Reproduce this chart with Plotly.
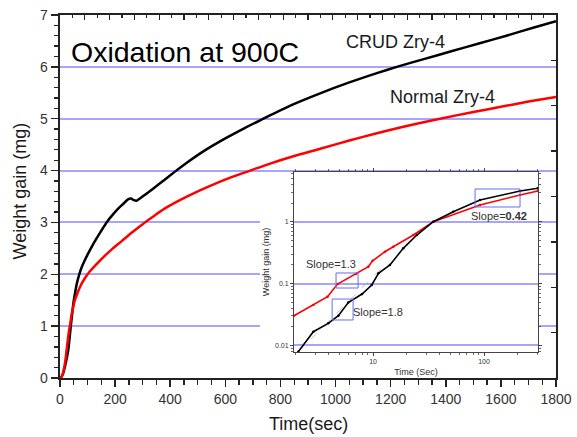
import math
import plotly.graph_objects as go

# ---------------- main chart data ----------------
crud_t = [0, 5, 10, 18, 24, 30, 35, 39, 44, 48, 55, 61, 70, 79, 90, 100, 115, 130, 145, 157, 169,
          190, 212, 230, 248, 258, 268, 278, 290, 310, 340, 381, 415, 460, 520, 600, 670, 738,
          830, 944, 1050, 1150, 1222, 1320, 1420, 1520, 1620, 1720, 1800]
crud_w = [0, 0.02, 0.07, 0.22, 0.37, 0.54, 0.78, 0.99, 1.22, 1.42, 1.65, 1.82, 2.0, 2.14, 2.27,
          2.38, 2.53, 2.67, 2.8, 2.9, 3.0, 3.14, 3.27, 3.36, 3.45, 3.46, 3.43, 3.42, 3.46, 3.54, 3.66,
          3.83, 3.97, 4.15, 4.37, 4.62, 4.82, 5.0, 5.24, 5.49, 5.7, 5.88, 6.0, 6.15, 6.3, 6.45,
          6.6, 6.76, 6.88]

normal_t = [0, 5, 10, 16, 20, 24, 28, 33, 37, 42, 48, 54, 63, 73, 85, 103, 130, 163, 190, 224,
            260, 308, 345, 381, 435, 500, 560, 620, 690, 760, 850, 944, 1050, 1150, 1250, 1379,
            1500, 1600, 1700, 1800]
normal_w = [0, 0.02, 0.08, 0.22, 0.36, 0.54, 0.72, 0.92, 1.04, 1.22, 1.37, 1.5, 1.63, 1.76, 1.88,
            2.02, 2.18, 2.36, 2.49, 2.64, 2.8, 3.0, 3.14, 3.27, 3.43, 3.6, 3.74, 3.87, 4.0, 4.13,
            4.28, 4.42, 4.58, 4.72, 4.85, 5.0, 5.13, 5.23, 5.33, 5.42]

# ---------------- inset (log-log) data ----------------
ins_normal_t = [1.94, 2.9, 3.89, 4.79, 7.03, 9.07, 9.9, 12.8, 15.2, 23.1, 34.9, 92, 211, 305]
ins_normal_w = [0.0301, 0.0449, 0.0611, 0.098, 0.1425, 0.187, 0.233, 0.327, 0.394, 0.609, 1.0,
                1.86, 2.70, 3.14]
ins_crud_t = [2.12, 2.9, 3.95, 4.87, 5.98, 7.96, 9.73, 11.2, 14.2, 18.7, 24.8, 34.9, 52.8, 92,
              211, 305]
ins_crud_w = [0.0079, 0.0166, 0.0227, 0.0301, 0.0493, 0.0676, 0.0946, 0.146, 0.20, 0.371, 0.609,
              1.0, 1.45, 2.24, 3.14, 3.47]
fit18_t = [2.12, 12.8]
fit18_w = [0.0079, 0.20]

# slope boxes (time range, weight range) and labels
box_t = [[4.64, 7.33], [4.28, 6.61], [83, 211]]
box_w = [[0.0846, 0.148], [0.0257, 0.0561], [1.73, 3.38]]
slope_labels = ["Slope=1.3", "Slope=1.8", "Slope=<b>0.42</b>"]
slope_pos_t = [4.19, 11.1, 136]
slope_pos_w = [0.207, 0.0344, 1.24]

main_xticks = [0, 200, 400, 600, 800, 1000, 1200, 1400, 1600, 1800]
main_yticks = [0, 1, 2, 3, 4, 5, 6, 7]
ins_xticks = [10, 100]
ins_xminor = [2, 3, 4, 5, 6, 7, 8, 9, 20, 30, 40, 50, 60, 70, 80, 90, 200, 300]
ins_yticks = [0.01, 0.1, 1]
ins_yticktext = ["0.01", "0.1", "1"]
ins_yminor = [0.008, 0.009, 0.02, 0.03, 0.04, 0.05, 0.06, 0.07, 0.08, 0.09,
              0.2, 0.3, 0.4, 0.5, 0.6, 0.7, 0.8, 0.9, 2, 3, 4, 5, 6]

FONT = "Arial, Liberation Sans, sans-serif"
GRID = "rgb(165,165,255)"
AX = "#222222"

fig = go.Figure()
fig.add_trace(go.Scatter(x=crud_t, y=crud_w, mode="lines",
                         line=dict(color="black", width=2.5, shape="spline", smoothing=0.7),
                         showlegend=False, hoverinfo="skip"))
fig.add_trace(go.Scatter(x=normal_t, y=normal_w, mode="lines",
                         line=dict(color="#ff0000", width=2.5, shape="spline", smoothing=0.7),
                         showlegend=False, hoverinfo="skip"))
# helper (empty) trace for the top/right mirror axes
fig.add_trace(go.Scatter(x=[], y=[], xaxis="x3", yaxis="y3", showlegend=False, hoverinfo="skip"))

# inset traces
fig.add_trace(go.Scatter(x=fit18_t, y=fit18_w, xaxis="x2", yaxis="y2", mode="lines",
                         line=dict(color="rgba(170,175,225,0.8)", width=1, dash="dash"),
                         showlegend=False, hoverinfo="skip"))
fig.add_trace(go.Scatter(x=ins_normal_t, y=ins_normal_w, xaxis="x2", yaxis="y2", mode="lines+markers",
                         line=dict(color="#ff0000", width=1.6), marker=dict(size=2.5, color="#ff0000"),
                         showlegend=False, hoverinfo="skip"))
fig.add_trace(go.Scatter(x=ins_crud_t, y=ins_crud_w, xaxis="x2", yaxis="y2", mode="lines+markers",
                         line=dict(color="black", width=1.6), marker=dict(size=2.5, color="black"),
                         showlegend=False, hoverinfo="skip"))

shapes = [dict(type="rect", xref="x", yref="y", x0=726, x1=1738, y0=0.03, y1=3.9,
               fillcolor="white", line=dict(width=0), layer="between")]
for (t0, t1), (w0, w1) in zip(box_t, box_w):
    shapes.append(dict(type="rect", xref="x2", yref="y2", x0=t0, x1=t1, y0=w0, y1=w1,
                       line=dict(color="rgb(100,110,245)", width=1), fillcolor="rgba(0,0,0,0)"))

annotations = [
    dict(text="Oxidation at 900C", x=34, y=6.28, xref="x", yref="y", xanchor="left", yanchor="middle",
         showarrow=False, font=dict(family=FONT, size=28.5, color="black")),
    dict(text="CRUD Zry-4", x=1219, y=6.47, xref="x", yref="y", xanchor="center", yanchor="middle",
         showarrow=False, font=dict(family=FONT, size=18, color="#1a1a1a")),
    dict(text="Normal Zry-4", x=1389, y=5.42, xref="x", yref="y", xanchor="center", yanchor="middle",
         showarrow=False, font=dict(family=FONT, size=18, color="#1a1a1a")),
    dict(text="Weight gain (mg)", x=-0.0806, y=0.514, xref="paper", yref="paper", textangle=-90,
         xanchor="center", yanchor="middle",
         showarrow=False, font=dict(family=FONT, size=18, color="#1a1a1a")),
    dict(text="Time(sec)", x=0.5, y=-0.127, xref="paper", yref="paper", xanchor="center",
         yanchor="middle", showarrow=False, font=dict(family=FONT, size=18, color="#1a1a1a")),
]
for lbl, t, w in zip(slope_labels, slope_pos_t, slope_pos_w):
    annotations.append(dict(text=lbl, x=math.log10(t), y=math.log10(w), xref="x2", yref="y2",
                            xanchor="center", yanchor="middle",
                            showarrow=False, font=dict(family=FONT, size=11, color="#333333")))

fig.update_layout(
    width=577, height=437,
    margin=dict(l=60, r=21, t=15, b=59),
    paper_bgcolor="white", plot_bgcolor="white",
    font=dict(family=FONT, color="#333333"),
    shapes=shapes, annotations=annotations,
    xaxis=dict(range=[0, 1800], tickmode="array", tickvals=main_xticks, ticks="outside", ticklen=7,
               tickwidth=1.5, tickcolor=AX, showline=True, linewidth=2, linecolor=AX,
               showgrid=False, zeroline=False, tickfont=dict(size=14, color="#333333"),
               minor=dict(dtick=50, ticks="outside", ticklen=4.5, tickwidth=1.3, tickcolor=AX),
               anchor="y", domain=[0, 1], automargin=False),
    yaxis=dict(range=[0, 7], tickmode="array", tickvals=main_yticks, ticks="outside", ticklen=7.5,
               tickwidth=1.5, tickcolor=AX, showline=True, linewidth=2, linecolor=AX,
               showgrid=True, gridcolor=GRID, gridwidth=2, zeroline=False,
               tickfont=dict(size=14, color="#333333"),
               minor=dict(dtick=0.2, ticks="outside", ticklen=4.5, tickwidth=1.3, tickcolor=AX),
               anchor="x", domain=[0, 1], automargin=False),
    xaxis3=dict(range=[0, 20], overlaying="x", side="top", anchor="y3", dtick=1, ticks="inside",
                ticklen=5, tickwidth=1.3, tickcolor=AX, showticklabels=False, showline=True,
                linewidth=2, linecolor=AX, showgrid=False, zeroline=False, automargin=False,
                minor=dict(dtick=0.5, ticks="inside", ticklen=2.5, tickwidth=1.2, tickcolor=AX)),
    yaxis3=dict(range=[0, 8], overlaying="y", side="right", anchor="x3", dtick=1, ticks="inside",
                ticklen=5, tickwidth=1.3, tickcolor=AX, showticklabels=False, showline=True,
                linewidth=2, linecolor=AX, showgrid=False, zeroline=False, automargin=False),
    xaxis2=dict(type="log", range=[0.288, 2.486], domain=[0.4718, 0.9637], anchor="y2",
                tickmode="array", tickvals=ins_xticks, ticks="outside", ticklen=3, tickwidth=1,
                tickcolor="#444", showline=True, linewidth=1, linecolor="#444", mirror="ticks",
                showgrid=False, zeroline=False, tickfont=dict(size=7, color="#333"), automargin=False,
                minor=dict(tickvals=ins_xminor, ticks="outside", ticklen=2, tickwidth=0.8,
                           tickcolor="#444", showgrid=False),
                title=dict(text="Time (Sec)", font=dict(size=9, color="#333"), standoff=4)),
    yaxis2=dict(type="log", range=[-2.108, 0.804], domain=[0.0716, 0.5675], anchor="x2",
                tickmode="array", tickvals=ins_yticks, ticktext=ins_yticktext, ticks="outside",
                ticklen=3, tickwidth=1, tickcolor="#444", showline=True, linewidth=1, linecolor="#444",
                mirror="ticks", showgrid=True, gridcolor=GRID, gridwidth=2, zeroline=False,
                tickfont=dict(size=7, color="#333"), automargin=False,
                minor=dict(tickvals=ins_yminor, ticks="outside", ticklen=2, tickwidth=0.8,
                           tickcolor="#444", showgrid=False),
                title=dict(text="Weight gain (mg)", font=dict(size=9, color="#333"), standoff=3)),
)

fig.write_html("out.html", config={"displayModeBar": False, "staticPlot": True},
               post_script="document.body.style.margin='0';document.body.style.overflow='hidden';")
